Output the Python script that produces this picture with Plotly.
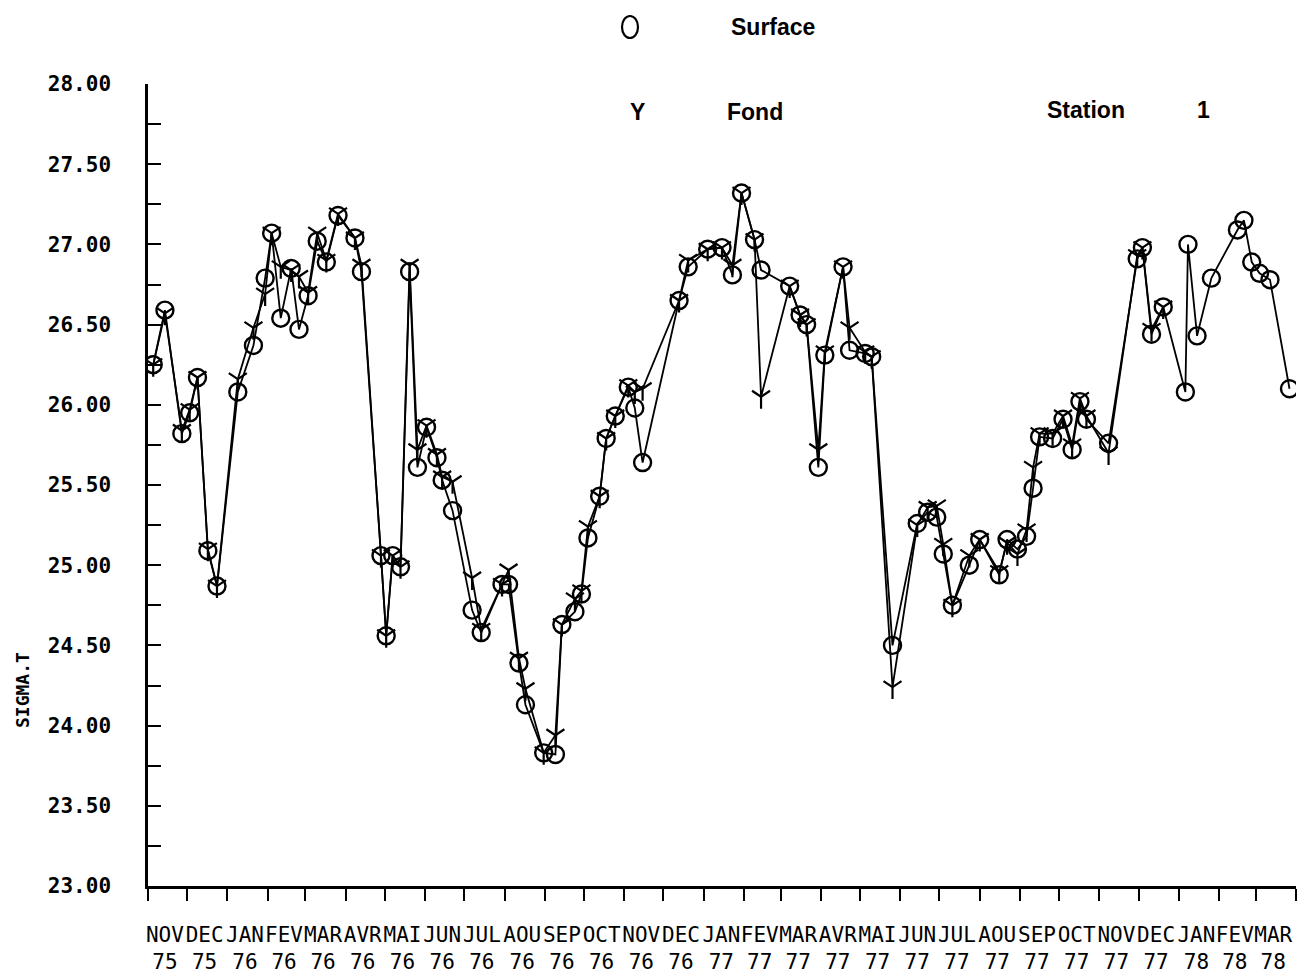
import plotly.graph_objects as go
import pandas as pd

# ---- data ----
dates = [
    "1975-11-05", "1975-11-14", "1975-11-27", "1975-12-03", "1975-12-09", "1975-12-17", "1975-12-24",
    "1976-01-09", "1976-01-21", "1976-01-30", "1976-02-04", "1976-02-11", "1976-02-19", "1976-02-25",
    "1976-03-03", "1976-03-10", "1976-03-17", "1976-03-26", "1976-04-08", "1976-04-13", "1976-04-28",
    "1976-05-02", "1976-05-07", "1976-05-13", "1976-05-20", "1976-05-26", "1976-06-02", "1976-06-10",
    "1976-06-14", "1976-06-22", "1976-07-07", "1976-07-14", "1976-07-30", "1976-08-04", "1976-08-12",
    "1976-08-17", "1976-08-31", "1976-09-09", "1976-09-14", "1976-09-24", "1976-09-29", "1976-10-04",
    "1976-10-13", "1976-10-18", "1976-10-25", "1976-11-04", "1976-11-09", "1976-11-15", "1976-12-13",
    "1976-12-20", "1977-01-04", "1977-01-15", "1977-01-23", "1977-01-30", "1977-02-09", "1977-02-14",
    "1977-03-08", "1977-03-16", "1977-03-21", "1977-03-30", "1977-04-04", "1977-04-18", "1977-04-23",
    "1977-05-05", "1977-05-10", "1977-05-26", "1977-06-14", "1977-06-22", "1977-06-29", "1977-07-04",
    "1977-07-11", "1977-07-24", "1977-08-01", "1977-08-16", "1977-08-22", "1977-08-30", "1977-09-06",
    "1977-09-11", "1977-09-16", "1977-09-26", "1977-10-04", "1977-10-11", "1977-10-17", "1977-10-22",
    "1977-11-08", "1977-11-30", "1977-12-04", "1977-12-11", "1977-12-20", "1978-01-06", "1978-01-08",
    "1978-01-15", "1978-01-26", "1978-02-15", "1978-02-20", "1978-02-26", "1978-03-04", "1978-03-12",
    "1978-03-27",
]

surface = [
    26.25, 26.59, 25.82, 25.95, 26.17, 25.09, 24.87,
    26.08, 26.37, 26.79, 27.07, 26.54, 26.85, 26.47,
    26.68, 27.02, 26.89, 27.18, 27.04, 26.83, 25.06,
    24.56, 25.06, 24.99, 26.83, 25.61, 25.86, 25.67,
    25.53, 25.34, 24.72, 24.58, 24.88, 24.88, 24.39,
    24.13, 23.83, 23.82, 24.63, 24.71, 24.82, 25.17,
    25.43, 25.79, 25.93, 26.11, 25.98, 25.64, 26.65,
    26.86, 26.97, 26.98, 26.81, 27.32, 27.03, 26.84,
    26.74, 26.56, 26.50, 25.61, 26.31, 26.86, 26.34,
    26.32, 26.30, 24.50, 25.26, 25.33, 25.30, 25.07,
    24.75, 25.00, 25.16, 24.94, 25.16, 25.10, 25.18,
    25.48, 25.80, 25.79, 25.91, 25.72, 26.02, 25.91,
    25.76, 26.91, 26.98, 26.44, 26.61, 26.08, 27.00,
    26.43, 26.79, 27.09, 27.15, 26.89, 26.82, 26.78,
    26.10,
]

fond = [
    26.25, 26.57, 25.84, 25.97, 26.17, 25.10, 24.87,
    26.16, 26.48, 26.69, 27.07, 26.86, 26.84, 26.80,
    26.70, 27.07, 26.90, 27.19, 27.04, 26.87, 25.06,
    24.56, 25.06, 24.99, 26.87, 25.72, 25.87, 25.69,
    25.55, 25.52, 24.92, 24.60, 24.88, 24.97, 24.42,
    24.23, 23.83, 23.94, 24.63, 24.79, 24.84, 25.24,
    25.43, 25.79, 25.93, 26.12, 26.08, 26.10, 26.65,
    26.90, 26.97, 26.98, 26.87, 27.32, 27.03, 26.05,
    26.74, 26.56, 26.50, 25.72, 26.33, 26.86, 26.48,
    26.33, 26.30, 24.24, 25.25, 25.36, 25.37, 25.13,
    24.75, 25.06, 25.16, 24.96, 25.14, 25.07, 25.22,
    25.61, 25.82, 25.82, 25.93, 25.75, 26.04, 25.93,
    25.70, 26.93, 26.98, 26.47, 26.61, None, None,
    None, None, None, None, None, None, None,
    None,
]

month_labels = ["NOV", "DEC", "JAN", "FEV", "MAR", "AVR", "MAI", "JUN", "JUL", "AOU", "SEP", "OCT",
                "NOV", "DEC", "JAN", "FEV", "MAR", "AVR", "MAI", "JUN", "JUL", "AOU", "SEP", "OCT",
                "NOV", "DEC", "JAN", "FEV", "MAR"]
year_labels = ["75", "75"] + ["76"] * 12 + ["77"] * 12 + ["78"] * 3

y_tick_values = [23.0, 23.5, 24.0, 24.5, 25.0, 25.5, 26.0, 26.5, 27.0, 27.5, 28.0]

# ---- layout geometry (screen pixels) ----
W, H = 1298, 974
PX0, PX1, PY0, PY1 = 148, 1296, 84, 886   # plot area on screen
L, T, R, B = PX0, PY0, W - PX1, H - PY1
PW, PH = PX1 - PX0, PY1 - PY0


def px(x):
    return (x - PX0) / PW


def py(y):
    return (PY1 - y) / PH


starts = pd.date_range("1975-11-01", periods=len(month_labels) + 1, freq="MS")
label_pos = starts[:-1] + (starts[1:] - starts[:-1]) / 2 - pd.Timedelta(days=2)
ticktext = [f"{m}<br>{y}" for m, y in zip(month_labels, year_labels)]

fig = go.Figure()

fig.add_trace(go.Scatter(
    x=dates, y=surface, name="Surface", mode="lines+markers",
    line=dict(color="black", width=1.8),
    marker=dict(symbol="circle-open", size=17, color="black", line=dict(width=2.4, color="black")),
    showlegend=False,
))
fig.add_trace(go.Scatter(
    x=dates, y=fond, name="Fond", mode="lines+markers",
    line=dict(color="black", width=1.8),
    marker=dict(symbol="y-down", size=15, color="black", line=dict(width=2.2, color="black")),
    showlegend=False,
))

title_font = dict(family="Liberation Sans", size=23, color="black")

fig.update_layout(
    width=W, height=H,
    margin=dict(l=L, r=R, t=T, b=B, pad=0),
    paper_bgcolor="white", plot_bgcolor="white",
    xaxis=dict(
        type="date",
        range=[starts[0], starts[-1]],
        automargin=False,
        tickmode="array", tickvals=label_pos, ticktext=ticktext,
        ticks="outside", ticklen=12, tickcolor="rgba(0,0,0,0)",
        ticklabelstandoff=16,
        tickfont=dict(family="DejaVu Sans Mono", size=21, color="black"),
        tickangle=0,
        minor=dict(dtick="M1", tick0="1975-11-01", ticks="outside", ticklen=12,
                   tickwidth=2, tickcolor="black", showgrid=False),
        showline=True, linecolor="black", linewidth=2.5,
        showgrid=False, zeroline=False,
    ),
    yaxis=dict(
        range=[23, 28],
        automargin=False,
        tickmode="array", tickvals=y_tick_values, tickformat=".2f",
        ticks="inside", ticklen=13, tickwidth=2, tickcolor="black",
        ticklabelstandoff=30,
        minor=dict(dtick=0.25, tick0=23, ticks="inside", ticklen=13, tickwidth=2,
                   tickcolor="black", showgrid=False),
        tickfont=dict(family="DejaVu Sans Mono", size=21, color="black", weight="bold"),
        showline=True, linecolor="black", linewidth=2.5,
        showgrid=False, zeroline=False,
    ),
)

# legend-like texts
fig.add_shape(type="circle", xref="paper", yref="paper",
              xsizemode="pixel", ysizemode="pixel",
              xanchor=px(630), yanchor=py(27),
              x0=-8, x1=8, y0=-11, y1=11,
              line=dict(color="black", width=2.2))

annots = [
    ("Surface", 773, 27),
    ("Y", 637, 112),
    ("Fond", 755, 112),
    ("Station", 1086, 110),
    ("1", 1203, 110),
]
for text, x, y in annots:
    fig.add_annotation(text=f"<b>{text}</b>", xref="paper", yref="paper",
                       x=px(x), y=py(y), xanchor="center", yanchor="middle",
                       showarrow=False, font=title_font)

fig.add_annotation(text="<b>SIGMA.T</b>", xref="paper", yref="paper",
                   x=px(22), y=py(690), xanchor="center", yanchor="middle",
                   textangle=-90, showarrow=False,
                   font=dict(family="DejaVu Sans Mono", size=18, color="black"))

fig.write_html(
    "out.html",
    config={"displayModeBar": False},
    post_script="document.body.style.margin='0';document.body.style.overflow='hidden';",
)
